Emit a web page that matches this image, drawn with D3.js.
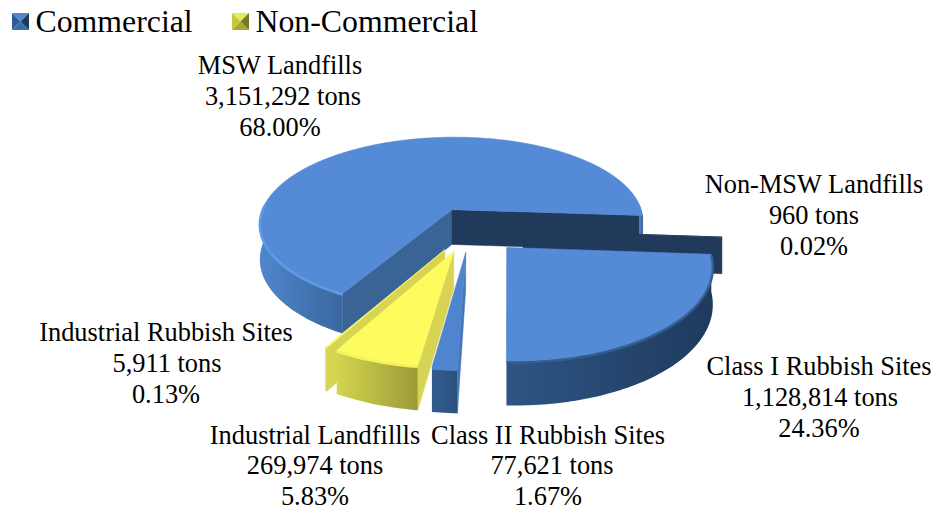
<!DOCTYPE html>
<html>
<head>
<meta charset="utf-8">
<script src="https://cdn.jsdelivr.net/npm/d3@7"></script>
<style>
  html, body { margin: 0; padding: 0; background: #fff; }
  text { font-family: "Liberation Serif", serif; fill: #000; }
</style>
</head>
<body>
<script>
var categories = ["MSW Landfills", "Non-MSW Landfills", "Class I Rubbish Sites", "Class II Rubbish Sites", "Industrial Landfillls", "Industrial Rubbish Sites"];
var tons = [3151292, 960, 1128814, 77621, 269974, 5911];
var percents = ["68.00%", "0.02%", "24.36%", "1.67%", "5.83%", "0.13%"];
var legendNames = ["Commercial", "Non-Commercial"];

var width = 935, height = 508;

// layout of the exploded pie
var cx = 470, cy = 229, radius = 196, depth = 36, tilt = 0.456, persp = 0.0008;
var startAngle = 209.2 * Math.PI / 180;

var explode = [50, 53, 53, 50, 50, 50];
var shiftX = [5, 0, 0, 0, 0, 0];
var labelPos = [[280, 74], [814, 193], [819, 375], [548, 443.5], [315, 443.5], [166, 341]];
var tonsNudge = [3, 0, 1, 4, 0, 1];

// styles for each slice: top, rim gradient (left, right), start wall, end wall, bevel
var sliceStyle = [
    { top: "#548ad6", rim: ["#4f86cc", "#3a679f"], a: "#3a6496", b: "#213a5c", bevel: "#5f9ae6" },
    { top: "#213a5c", rim: ["#213a5c", "#213a5c"], a: "#213a5c", b: "#213a5c", bevel: "#213a5c" },
    { top: "#548ad6", rim: ["#2e5585", "#1f3a5e"], a: "#2e5585", b: "#2e5585", bevel: "#33608f" },
    { top: "#4f85cf", rim: ["#335c8d", "#2b5180"], a: "#4477b8", b: "#2e5585", bevel: "#4f85cf" },
    { top: "#fdfc5e", rim: ["#d4d44e", "#9c9b3a"], a: "#d6d452", b: "#c9c84a", bevel: "#f4f35a" },
    { top: "#fdfc5e", rim: ["#d6d452", "#d6d452"], a: "#d6d452", b: "#d6d452", bevel: "#e8e654" }
];

var svg = d3.select("body").append("svg")
    .attr("width", width)
    .attr("height", height);

var defs = svg.append("defs");

var pie = d3.pie()
    .sort(null)
    .value(function (d) { return d; })
    .startAngle(startAngle)
    .endAngle(startAngle + 2 * Math.PI);

var arcs = pie(tons);

// ground point -> screen point, with a little perspective
function project(X, Y, z) {
    var s = 1 / (1 - persp * Y);
    return [cx + X * s, cy + (Y * tilt + z) * s];
}

var line = d3.line();
var step = Math.PI / 180;

// front-facing runs of the outer edge; the big slice wraps round the back so it has two
function frontRuns(angles) {
    var runs = [], cur = [];
    angles.forEach(function (a) {
        if (Math.cos(a) < 0.08) cur.push(a);
        else if (cur.length) { runs.push(cur); cur = []; }
    });
    if (cur.length) runs.push(cur);
    return runs.filter(function (r) { return r.length > 1; });
}

function drawSlice(i) {
    var d = arcs[i], st = sliceStyle[i], e = explode[i];
    var mid = (d.startAngle + d.endAngle) / 2;
    var g = svg.append("g").attr("class", "slice");

    function pointOn(a, r, z) {
        var X = shiftX[i] + e * Math.sin(mid) + r * Math.sin(a),
            Y = -e * Math.cos(mid) - r * Math.cos(a);
        return project(X, Y, z);
    }

    var angles = d3.range(d.startAngle, d.endAngle, step).concat([d.endAngle]);

    var apexTop = pointOn(0, 0, 0), apexBot = pointOn(0, 0, depth);
    var wallA = [apexTop, pointOn(d.startAngle, radius, 0), pointOn(d.startAngle, radius, depth), apexBot];
    var wallB = [apexTop, apexBot, pointOn(d.endAngle, radius, depth), pointOn(d.endAngle, radius, 0)];

    if (d3.polygonArea(wallA) > 0) g.append("path").attr("d", line(wallA) + "Z").attr("fill", st.a).attr("stroke", st.a).attr("stroke-width", 0.5);
    if (d3.polygonArea(wallB) > 0) g.append("path").attr("d", line(wallB) + "Z").attr("fill", st.b).attr("stroke", st.b).attr("stroke-width", 0.5);

    // rim, only the part turned to the viewer
    var runs = frontRuns(angles);
    runs.forEach(function (front, k) {
        var upper = front.map(function (a) { return pointOn(a, radius, 0); });
        var lower = front.map(function (a) { return pointOn(a, radius, depth); }).reverse();
        var xs = upper.map(function (p) { return p[0]; });
        var gradId = "rim" + i + "_" + k;
        var grad = defs.append("linearGradient").attr("id", gradId)
            .attr("gradientUnits", "userSpaceOnUse")
            .attr("x1", d3.min(xs)).attr("x2", d3.max(xs)).attr("y1", 0).attr("y2", 0);
        grad.append("stop").attr("offset", 0).attr("stop-color", st.rim[0]);
        grad.append("stop").attr("offset", 1).attr("stop-color", st.rim[1]);
        g.append("path").attr("d", line(upper.concat(lower)) + "Z").attr("fill", "url(#" + gradId + ")");
    });

    var topPts = [apexTop].concat(angles.map(function (a) { return pointOn(a, radius, 0); }));
    g.append("path").attr("d", line(topPts) + "Z").attr("fill", st.top).attr("stroke", st.top).attr("stroke-width", 0.6);

    runs.forEach(function (front) {
        // the bevel only shows on the lower front, not on the wrap-around at the far right of the big slice
        if (i === 0 && front[0] > Math.PI * 2) return;
        g.append("path")
            .attr("d", line(front.map(function (a) { return pointOn(a, radius, 1); })))
            .attr("fill", "none").attr("stroke", st.bevel).attr("stroke-width", 2.5);
    });
}

// back to front
[0, 1, 5, 4, 3, 2].forEach(drawSlice);

// data labels
var fmt = d3.format(",");
categories.forEach(function (name, i) {
    var t = svg.append("text")
        .attr("text-anchor", "middle")
        .attr("font-size", 26.4);
    [name, fmt(tons[i]) + " tons", percents[i]].forEach(function (s, k) {
        t.append("tspan")
            .attr("x", labelPos[i][0] + (k === 1 ? tonsNudge[i] : 0))
            .attr("y", labelPos[i][1] + k * 30.8)
            .text(s);
    });
});

// legend
var legendX = [12, 232];
var markerColors = [
    ["#5489c9", "#2d5c96", "#3a6ca8", "#1d3a60"],
    ["#e8e860", "#c8c840", "#a5a53a", "#77772a"]
];
legendNames.forEach(function (name, i) {
    var x0 = legendX[i], y0 = 13, m = 17;
    var c = [x0 + m / 2, y0 + m / 2];
    var corners = [[x0, y0], [x0 + m, y0], [x0 + m, y0 + m], [x0, y0 + m]];
    // top, left, bottom, right
    [[0, 1, 0], [3, 0, 1], [2, 3, 2], [1, 2, 3]].forEach(function (t) {
        svg.append("path")
            .attr("d", line([corners[t[0]], corners[t[1]], c]) + "Z")
            .attr("fill", markerColors[i][t[2]]);
    });
    svg.append("text")
        .attr("x", x0 + 23.5)
        .attr("y", 32)
        .attr("font-size", 31.8)
        .text(name);
});
</script>
</body>
</html>
